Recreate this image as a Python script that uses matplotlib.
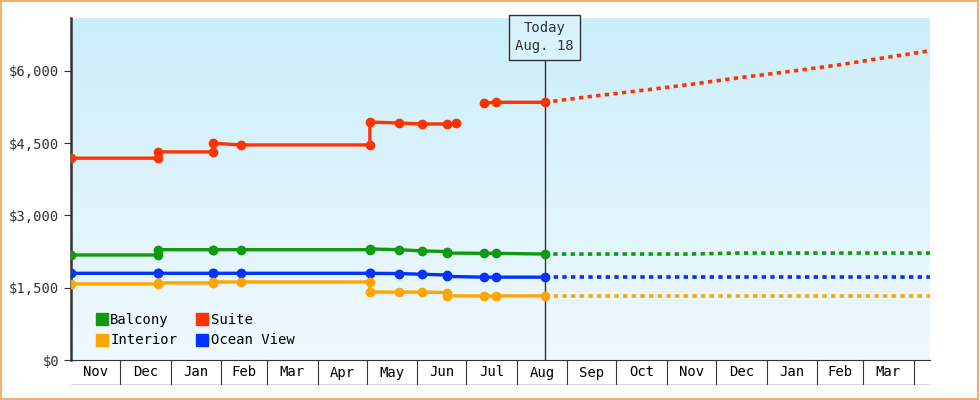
import matplotlib
matplotlib.use('Agg')
import matplotlib.pyplot as plt
import matplotlib.dates as mdates
import numpy as np
from datetime import datetime as dt
from matplotlib.patches import Rectangle
from matplotlib.colors import LinearSegmentedColormap
from matplotlib.lines import Line2D

plt.rcParams['font.family'] = 'DejaVu Sans Mono'

# history (step changes are given as two points on the same date)
hist_dates = ['2017-11-01', '2017-12-24', '2017-12-24', '2018-01-27', '2018-01-27', '2018-02-13',
              '2018-05-03', '2018-05-03', '2018-05-21', '2018-06-04', '2018-06-19', '2018-06-19',
              '2018-07-12', '2018-07-19', '2018-08-18']
balcony = [2180, 2180, 2290, 2290, 2290, 2290, 2290, 2305, 2290, 2265, 2250, 2220, 2215, 2215, 2200]
ocean = [1800, 1800, 1800, 1800, 1800, 1800, 1800, 1800, 1795, 1780, 1765, 1735, 1720, 1720, 1720]
interior = [1580, 1580, 1600, 1600, 1620, 1620, 1620, 1412, 1410, 1410, 1400, 1330, 1330, 1330, 1330]

suite_dates = ['2017-11-01', '2017-12-24', '2017-12-24', '2018-01-27', '2018-01-27', '2018-02-13',
               '2018-05-03', '2018-05-03', '2018-05-21', '2018-06-04', '2018-06-19', '2018-06-25']
suite = [4190, 4190, 4320, 4320, 4500, 4465, 4465, 4940, 4920, 4900, 4900, 4920]
suite2_dates = ['2018-07-12', '2018-07-19', '2018-08-18']
suite2 = [5335, 5350, 5350]

fc_dates = ['2018-08-18', '2018-09-15', '2018-10-15', '2018-11-15', '2018-12-15',
            '2019-01-15', '2019-02-15', '2019-03-15', '2019-04-11']
fc_suite = [5350, 5470, 5590, 5720, 5860, 5990, 6130, 6280, 6420]
fc_balcony = [2200, 2200, 2200, 2200, 2220, 2220, 2220, 2220, 2220]
fc_ocean = [1720] * 9
fc_interior = [1330] * 9

months = ['Nov', 'Dec', 'Jan', 'Feb', 'Mar', 'Apr', 'May', 'Jun', 'Jul',
          'Aug', 'Sep', 'Oct', 'Nov', 'Dec', 'Jan', 'Feb', 'Mar']
month_starts = ['2017-11-01', '2017-12-01', '2018-01-01', '2018-02-01', '2018-03-01', '2018-04-01',
                '2018-05-01', '2018-06-01', '2018-07-01', '2018-08-01', '2018-09-01', '2018-10-01',
                '2018-11-01', '2018-12-01', '2019-01-01', '2019-02-01', '2019-03-01', '2019-04-01']

D = lambda l: [mdates.date2num(dt.strptime(s, '%Y-%m-%d')) for s in l]
x0, x1 = D(['2017-11-01'])[0], D(['2019-04-11'])[0]
today = D(['2018-08-18'])[0]

fig = plt.figure(figsize=(9.8, 4), dpi=100)
fig.patches.append(Rectangle((0.001, 0.002), 0.997, 0.995, transform=fig.transFigure,
                             fill=False, edgecolor='#f0b070', lw=1.5))
ax = fig.add_axes([71/980, 40/400, 859/980, 342/400])
grad = np.linspace(0, 1, 256).reshape(-1, 1)
cm = LinearSegmentedColormap.from_list('g', ['#f0f9fe', '#cbeefb'])
ax.imshow(grad, cmap=cm, origin='lower', aspect='auto', extent=(x0, x1, 0, 7100), zorder=0)

cols = {'Balcony': '#109a10', 'Suite': '#ff3300', 'Interior': '#ffa500', 'Ocean View': '#0033ff'}
kw = dict(lw=2.4, marker='o', ms=6, zorder=3)
ax.plot(D(hist_dates), balcony, color=cols['Balcony'], **kw)
ax.plot(D(hist_dates), ocean, color=cols['Ocean View'], **kw)
ax.plot(D(hist_dates), interior, color=cols['Interior'], **kw)
ax.plot(D(suite_dates), suite, color=cols['Suite'], **kw)
ax.plot(D(suite2_dates), suite2, color=cols['Suite'], **kw)
for vals, c in [(fc_suite, 'Suite'), (fc_balcony, 'Balcony'), (fc_ocean, 'Ocean View'), (fc_interior, 'Interior')]:
    ax.plot(D(fc_dates), vals, color=cols[c], lw=2.6, ls=(0, (1.2, 1.2)), zorder=3)

ax.axvline(today, ymax=(360-60)/342, color='#333333', lw=1, zorder=2)
ax.text(today, 6700, 'Today\nAug. 18', ha='center', va='center', fontsize=10, color='#333333',
        linespacing=1.4, bbox=dict(boxstyle='square,pad=0.45', fc='#d8f3fc', ec='#333333', lw=1), zorder=4)

ax.set_xlim(x0, x1)
ax.set_ylim(0, 7100)
ax.set_yticks([0, 1500, 3000, 4500, 6000])
ax.set_yticklabels(['$0', '$1,500', '$3,000', '$4,500', '$6,000'])
ax.tick_params(axis='y', labelsize=10, colors='#333333', length=5)
ax.set_xticks([])
for s in ['top', 'right']:
    ax.spines[s].set_visible(False)
ax.spines['left'].set_linewidth(1.8)
ax.spines['left'].set_color('#333333')
ax.spines['bottom'].set_color('#333333')

names = ['Balcony', 'Interior', 'Suite', 'Ocean View']
handles = [Line2D([], [], ls='', marker='s', ms=9, color=cols[n]) for n in names]
ax.legend(handles, names, ncol=2, loc='lower left',
          bbox_to_anchor=(0.015, 0.0), frameon=False, fontsize=10, handlelength=0.8,
          handletextpad=0.2, columnspacing=1.4, labelspacing=0.45)

# month strip
ax2 = fig.add_axes([71/980, 15/400, 859/980, 25/400])
ax2.set_xlim(x0, x1)
ax2.set_ylim(0, 1)
ax2.axis('off')
ms = D(month_starts)
for m in ms[1:]:
    ax2.axvline(m, color='#333333', lw=0.8)
ax2.axhline(0, color='#333333', lw=1)
for i, lab in enumerate(months):
    ax2.text((ms[i] + ms[i+1]) / 2, 0.5, lab, ha='center', va='center', fontsize=10)

fig.savefig('out.png')
